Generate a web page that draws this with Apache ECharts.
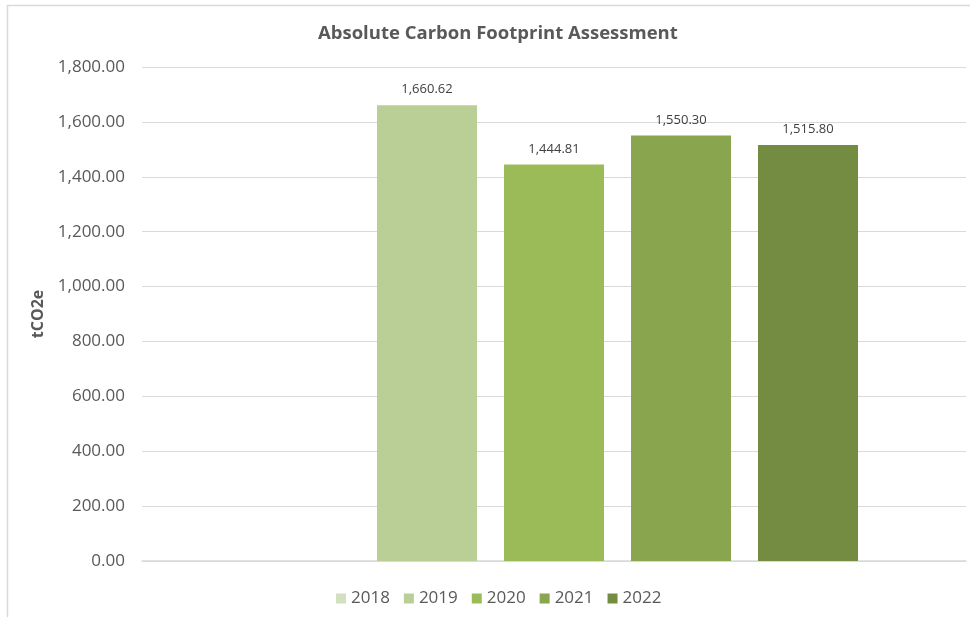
<!DOCTYPE html>
<html><head><meta charset="utf-8">
<script src="https://cdn.jsdelivr.net/npm/echarts@6/dist/echarts.min.js"></script>
<style>html,body{margin:0;padding:0;background:#fff}#c{width:970px;height:617px}</style>
</head><body><div id="c"></div>
<script>
const categories = [''];
const years = ['2018', '2019', '2020', '2021', '2022'];
const values = [null, 1660.62, 1444.81, 1550.30, 1515.80];
const colors = ['#d2dfc0', '#b9cf96', '#9bbb59', '#89a64f', '#748c41'];
const yTicks = { min: 0, max: 1800, interval: 200 };

const fmt = v => v.toLocaleString('en-US', { minimumFractionDigits: 2, maximumFractionDigits: 2 });
const font = '"Open Sans", "Liberation Sans", sans-serif';

const chart = echarts.init(document.getElementById('c'));
chart.setOption({
  animation: false,
  textStyle: { fontFamily: font },
  graphic: [{ type: 'rect', shape: { x: 7.5, y: 5.5, width: 1000, height: 1000 }, style: { fill: 'none', stroke: '#d9d9d9', lineWidth: 1.5 } }],
  title: {
    text: 'Absolute Carbon Footprint Assessment', left: 313, top: 19,
    textStyle: { fontFamily: font, fontSize: 18.5, fontWeight: 'bold', color: '#595959' }
  },
  legend: {
    bottom: 5, left: 331, itemWidth: 10, itemHeight: 10, itemGap: 14, icon: 'rect',
    textStyle: { fontFamily: font, fontSize: 17, color: '#595959' }
  },
  grid: { left: 142, right: 4, top: 67, bottom: 56 },
  xAxis: {
    type: 'category', data: categories,
    axisLine: { lineStyle: { color: '#d9d9d9', width: 1.5 } }, axisTick: { show: false }, axisLabel: { show: false }
  },
  yAxis: {
    type: 'value', min: yTicks.min, max: yTicks.max, interval: yTicks.interval,
    name: 'tCO2e', nameLocation: 'middle', nameGap: 92, nameRotate: 90,
    nameTextStyle: { fontFamily: font, fontSize: 16, fontWeight: 'bold', color: '#595959' },
    axisLabel: { formatter: v => fmt(v), fontFamily: font, fontSize: 17, color: '#595959', margin: 17 },
    splitLine: { lineStyle: { color: '#d9d9d9', width: 1 } },
    axisLine: { show: false }, axisTick: { show: false }
  },
  series: years.map((y, i) => ({
    name: y, type: 'bar', data: [values[i]], barWidth: 100, barGap: '27%',
    itemStyle: { color: colors[i] },
    label: { show: true, position: 'top', distance: 9, formatter: p => fmt(p.value), fontFamily: font, fontSize: 13, color: '#404040' }
  }))
});
</script></body></html>
